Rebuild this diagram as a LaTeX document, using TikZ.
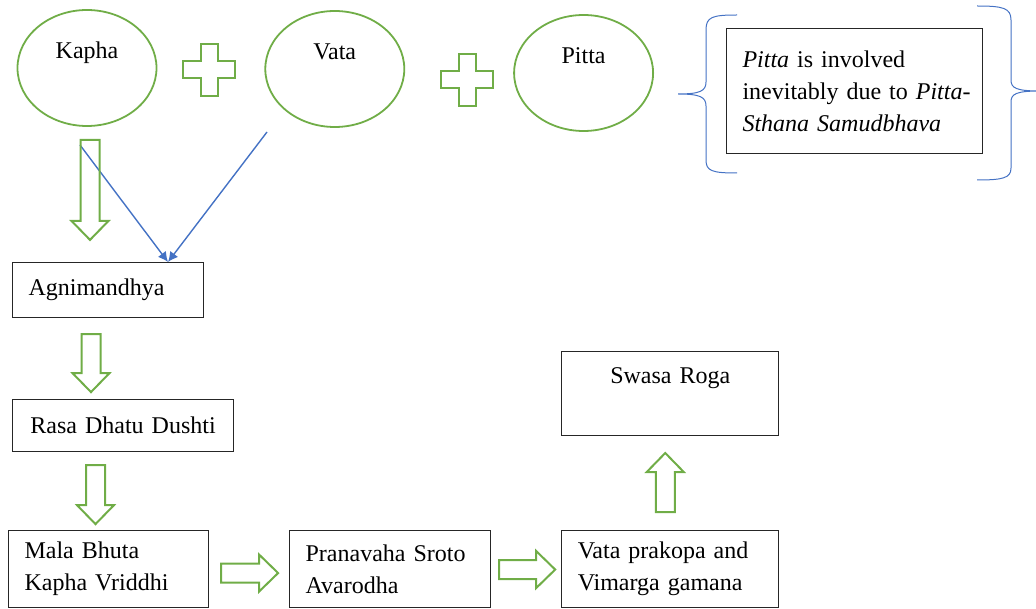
\documentclass[tikz,border=0pt]{standalone}
\usepackage{fontspec}
\setmainfont{Liberation Serif}
\usepackage{xcolor}
\definecolor{wgreen}{HTML}{70AD47}
\definecolor{wblue}{HTML}{4472C4}
\definecolor{boxline}{HTML}{262626}
\usepackage{tikz}
\usetikzlibrary{arrows.meta,positioning,shapes.geometric,calc}
\newcommand{\docfont}{\fontsize{24}{32}\selectfont}

\begin{document}
\begin{tikzpicture}[x=1pt,y=-1pt,>=Latex]
\tikzset{
 dosha/.style={ellipse,draw=wgreen,line width=1.8pt,minimum width=139pt,minimum height=116pt,align=center,font=\docfont},
 box/.style={draw=boxline,line width=1.1pt,inner xsep=16pt,inner ysep=0pt,align=left,font=\docfont},
 link/.style={-{Latex[length=10pt,width=10pt]},draw=wblue,line width=1.4pt},
 hollow/.style={draw=wgreen,line width=2pt,line join=miter},
 pics/plussign/.style={code={\draw[hollow] (-8.5,-26) -- (8.5,-26) -- (8.5,-8.5) -- (26,-8.5) -- (26,8.5) -- (8.5,8.5) -- (8.5,26) -- (-8.5,26) -- (-8.5,8.5) -- (-26,8.5) -- (-26,-8.5) -- (-8.5,-8.5) -- cycle;}},
 pics/fatarrow/.style={code={\draw[hollow] (0,-9.5) -- (#1-19,-9.5) -- (#1-19,-18.5) -- (#1,0) -- (#1-19,18.5) -- (#1-19,9.5) -- (0,9.5) -- cycle;}}
}
\useasboundingbox (0,0) rectangle (1036,609);
% doshas
\node[dosha] (kapha) at (87,68) {\strut Kapha\\\strut};
\node[dosha,right=107pt of kapha,yshift=-1pt] (vata) {\strut Vata\\\strut};
\node[dosha,right=108pt of vata,yshift=-4pt] (pitta) {\strut Pitta\\\strut};
\pic (plusA) at ($(kapha.east)!0.5!(vata.west)+(-1.5,1.5)$) {plussign};
\pic (plusB) at ($(vata.east)!0.5!(pitta.west)+(8,9)$) {plussign};
% note on pitta
\node[box,anchor=north west,text width=224pt,minimum height=125pt] (note) at (726,28)
 {\textit{Pitta} is involved\\\mbox{inevitably due to \textit{Pitta}-}\\\textit{Sthana Samudbhava}};
\draw[wblue,line width=1pt] (737,15) .. controls (712,15) and (706,17) .. (706,30) -- (706,82)
 .. controls (706,91) and (700,94) .. (678,94) .. controls (700,94) and (706,97) .. (706,106)
 -- (706,160) .. controls (706,171) and (712,173) .. (737,173);
\draw[wblue,line width=1pt] (977,6) .. controls (1003,6) and (1011,8) .. (1011,20) -- (1011,80)
 .. controls (1011,88) and (1016,91) .. (1040,91) .. controls (1016,91) and (1011,94) .. (1011,102)
 -- (1011,168) .. controls (1011,178) and (1003,180) .. (977,180);
% chain
\node[box,anchor=north west,text width=159pt,minimum height=55pt] (agni) at (12,262) {Agnimandhya};
\node[box,anchor=north west,align=center,text width=189pt,minimum height=52pt] (rasa) at (12,399) {Rasa Dhatu Dushti};
\node[box,anchor=north west,text width=168pt,minimum height=77pt] (mala) at (8,530) {Mala Bhuta\\Kapha Vriddhi};
\node[box,right=80pt of mala.north east,anchor=north west,text width=169pt,minimum height=77pt] (prana) {Pranavaha Sroto\\Avarodha};
\node[box,right=70pt of prana.north east,anchor=north west,text width=185pt,minimum height=77pt] (vatap) {Vata prakopa and\\Vimarga gamana};
\node[box,above=94pt of vatap.north west,anchor=south west,align=center,text width=185pt,minimum height=84pt] (swasa) {\strut Swasa Roga\\\strut};
% blue links
\coordinate (kaphatail) at (80,145);
\coordinate (vatatail) at (267,132);
\coordinate (meet) at ([xshift=156pt]agni.north west);
\draw[link] (kaphatail) -- (meet);
\draw[link] (vatatail) -- (meet);
% block arrows
\pic[rotate=-90] (arrA) at ($(kapha.south)+(3,13)$) {fatarrow=100};
\pic[rotate=-90] (arrB) at ($(agni.south west)+(79,16)$) {fatarrow=58};
\pic[rotate=-90] (arrC) at ($(rasa.south west)+(83.5,13)$) {fatarrow=59};
\pic (arrD) at ($(mala.east)+(12,4)$) {fatarrow=57};
\pic (arrE) at ($(prana.east)+(8,0.5)$) {fatarrow=56};
\pic[rotate=90] (arrF) at ($(vatap.north)+(-5,-18)$) {fatarrow=59};
\end{tikzpicture}
\end{document}
